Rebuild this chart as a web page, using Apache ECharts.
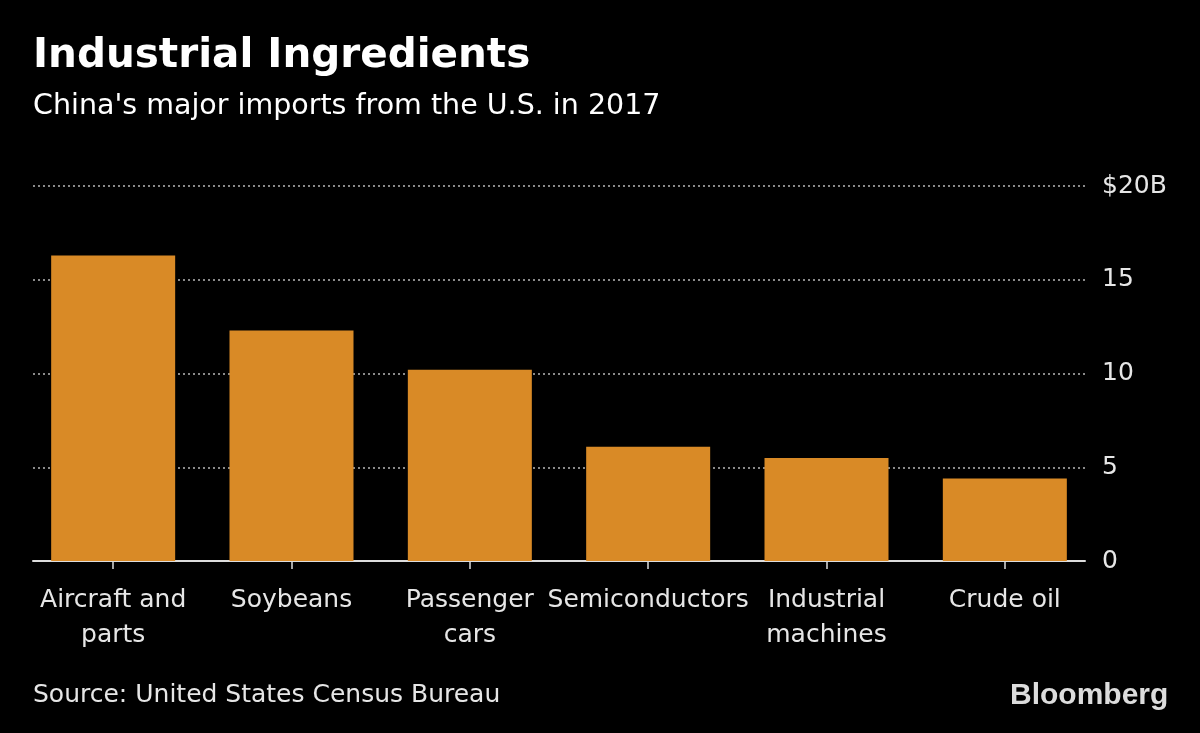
<!DOCTYPE html>
<html>
<head>
<meta charset="utf-8">
<script src="https://cdn.jsdelivr.net/npm/echarts@6/dist/echarts.min.js"></script>
<style>html,body{margin:0;padding:0;background:#000;}#c{width:1200px;height:733px;}</style>
</head>
<body>
<div id="c"></div>
<script>
const categories = ['Aircraft and\nparts', 'Soybeans', 'Passenger\ncars', 'Semiconductors', 'Industrial\nmachines', 'Crude oil'];
const imports = [16.3, 12.3, 10.2, 6.1, 5.5, 4.4];
const yTicks = [0, 5, 10, 15, 20];

const FONT = '"DejaVu Sans", sans-serif';
const chart = echarts.init(document.getElementById('c'), null, {renderer: 'canvas'});
chart.setOption({
  backgroundColor: '#000',
  animation: false,
  grid: [
    {left: 24, right: 106, top: 186, bottom: 172},
    {left: 33, right: 115, top: 186, bottom: 172}
  ],
  xAxis: [
    {type: 'category', gridIndex: 0, data: categories,
     axisLine: {show: false},
     axisTick: {show: true, alignWithLabel: true, length: 8, lineStyle: {color: '#ddd', width: 1.5}},
     axisLabel: {color: '#e6e6e6', fontSize: 25, fontFamily: FONT, margin: 22, lineHeight: 35, interval: 0}},
    {type: 'value', gridIndex: 1, min: 0, max: 1, show: true,
     axisLine: {show: true, lineStyle: {color: '#ddd', width: 2}},
     axisTick: {show: false}, axisLabel: {show: false}, splitLine: {show: false}}
  ],
  yAxis: [
    {type: 'value', gridIndex: 0, min: 0, max: 20, interval: 5, show: false, splitLine: {show: false}},
    {type: 'value', gridIndex: 1, min: 0, max: 20, interval: 5, position: 'right',
     axisLine: {show: false}, axisTick: {show: false},
     axisLabel: {color: '#e6e6e6', fontSize: 25, fontFamily: FONT, margin: 17,
       formatter: v => yTicks.includes(v) ? (v === 20 ? '$20B' : String(v)) : ''},
     splitLine: {show: true, lineStyle: {color: '#8a8a8a', type: [2, 3], width: 2}}}
  ],
  series: [
    {type: 'bar', xAxisIndex: 0, yAxisIndex: 0, data: imports, barWidth: 124,
     itemStyle: {color: '#D98A26'}, z: 3},
    {type: 'line', xAxisIndex: 1, yAxisIndex: 1, data: [], silent: true}
  ],
  graphic: [
    {type: 'text', x: 33, y: 36,
     style: {text: 'Industrial Ingredients', fill: '#fff', font: 'bold 40.5px "DejaVu Sans", sans-serif'}},
    {type: 'text', x: 33, y: 92,
     style: {text: "China's major imports from the U.S. in 2017", fill: '#fff', font: '28.5px "DejaVu Sans", sans-serif'}},
    {type: 'text', x: 33, y: 683,
     style: {text: 'Source: United States Census Bureau', fill: '#e6e6e6', font: '25px "DejaVu Sans", sans-serif'}},
    {type: 'text', x: 1010, y: 681,
     style: {text: 'Bloomberg', fill: '#dcdcdc', font: 'bold 30px "Liberation Sans", Arial, sans-serif'}}
  ]
});
</script>
</body>
</html>
